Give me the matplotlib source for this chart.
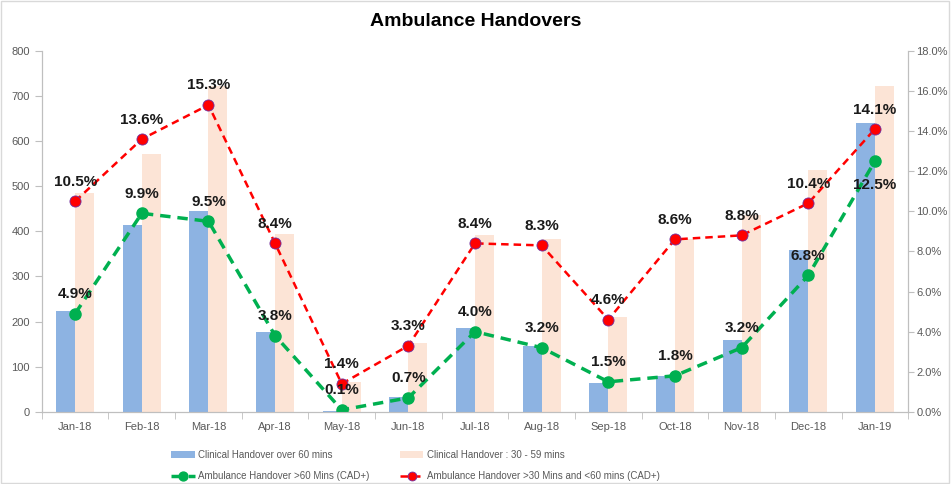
import numpy as np
import matplotlib.pyplot as plt
from matplotlib.patches import Rectangle
from matplotlib.ticker import FuncFormatter, MultipleLocator

plt.rcParams['font.family'] = ['Liberation Sans', 'DejaVu Sans']

months = ['Jan-18', 'Feb-18', 'Mar-18', 'Apr-18', 'May-18', 'Jun-18', 'Jul-18',
          'Aug-18', 'Sep-18', 'Oct-18', 'Nov-18', 'Dec-18', 'Jan-19']
over60 = [224, 413, 444, 176, 3, 34, 186, 147, 65, 80, 160, 359, 639]
mins30_59 = [485, 571, 721, 394, 67, 152, 391, 384, 210, 383, 437, 535, 722]
amb60 = [4.9, 9.9, 9.5, 3.8, 0.1, 0.7, 4.0, 3.2, 1.5, 1.8, 3.2, 6.8, 12.5]
amb30 = [10.5, 13.6, 15.3, 8.4, 1.4, 3.3, 8.4, 8.3, 4.6, 8.6, 8.8, 10.4, 14.1]

blue = '#8DB3E2'
peach = '#FCE4D6'
green = '#00B050'
red = '#FF0000'
grey = '#595959'

fig = plt.figure(figsize=(9.51, 4.84), dpi=100)
ax = fig.add_axes([0.044, 0.149, 0.911, 0.746])
ax2 = ax.twinx()

x = np.arange(len(months))
w = 0.285
b1 = ax.bar(x - w / 2, over60, w, color=blue, label='Clinical Handover over 60 mins')
b2 = ax.bar(x + w / 2, mins30_59, w, color=peach, label='Clinical Handover : 30 - 59 mins')

l1, = ax2.plot(x, amb60, color=green, ls='--', lw=2.5, marker='o', ms=8,
               dashes=(3, 2), label='Ambulance Handover >60 Mins (CAD+)')
l2, = ax2.plot(x, amb30, color=red, ls='--', lw=1.8, marker='o', ms=8,
               mec='#7030A0', mew=0.6, dashes=(3, 2),
               label='Ambulance Handover >30 Mins and <60 mins (CAD+)')

for i, v in enumerate(amb30):
    ax2.annotate('%.1f%%' % v, (i, v), xytext=(0, 9), textcoords='offset points',
                 ha='center', va='bottom', fontsize=11, fontweight='bold', color='#1a1a1a')
for i, v in enumerate(amb60):
    off = (0, -12) if i == 12 else (0, 9)
    va = 'top' if i == 12 else 'bottom'
    ax2.annotate('%.1f%%' % v, (i, v), xytext=off, textcoords='offset points',
                 ha='center', va=va, fontsize=11, fontweight='bold', color='#1a1a1a')

ax.set_xlim(-0.5, len(months) - 0.5)
ax.set_ylim(0, 800)
ax2.set_ylim(0, 18)
ax.yaxis.set_major_locator(MultipleLocator(100))
ax2.yaxis.set_major_locator(MultipleLocator(2))
ax2.yaxis.set_major_formatter(FuncFormatter(lambda v, p: '%.1f%%' % v))

ax.set_xticks(x)
ax.set_xticklabels(months)
ax.set_xticks(np.arange(-0.5, len(months)), minor=True)
ax.tick_params(axis='x', which='major', length=0, labelsize=8, colors=grey, pad=7)
ax.tick_params(axis='x', which='minor', length=5, color='#BFBFBF')
ax.tick_params(axis='y', length=5, color='#BFBFBF', labelsize=8, labelcolor=grey)
ax2.tick_params(axis='y', length=4, color='#BFBFBF', labelsize=8, labelcolor=grey, pad=2)

for a in (ax, ax2):
    a.spines['top'].set_visible(False)
    for s in ('left', 'right', 'bottom'):
        a.spines[s].set_color('#BFBFBF')

fig.text(0.5, 0.955, 'Ambulance Handovers', ha='center', va='center',
         fontsize=14, fontweight='bold')

fig.legend([b1, l1, b2, l2],
           [b1.get_label(), l1.get_label(), b2.get_label(), l2.get_label()],
           loc='lower center', bbox_to_anchor=(0.437, -0.012), ncol=2, frameon=False,
           fontsize=7, handlelength=2.4, handletextpad=0.4, markerscale=0.8,
           columnspacing=3.1, labelspacing=1.15, labelcolor=grey)

fig.patches.append(Rectangle((0.001, 0.002), 0.997, 0.995, transform=fig.transFigure,
                             fill=False, ec='#D9D9D9', lw=1))

fig.savefig('out.png', dpi=100)
